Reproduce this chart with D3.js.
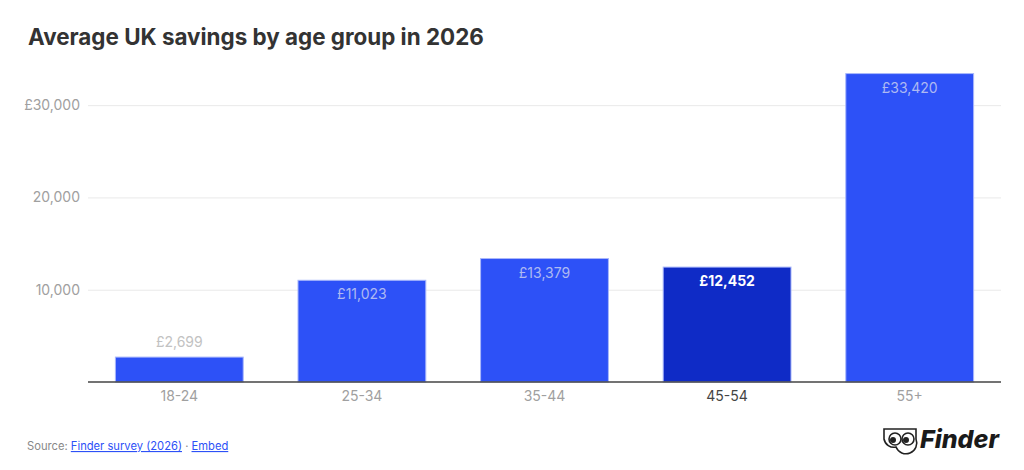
<!DOCTYPE html>
<html>
<head>
<meta charset="utf-8">
<script src="https://cdnjs.cloudflare.com/ajax/libs/d3/7.8.5/d3.min.js"></script>
<style>
  body { margin: 0; background: #fff; }
  svg { font-family: Inter, "Noto Sans", sans-serif; }
</style>
</head>
<body>
<svg id="chart" width="1024" height="470"></svg>
<script>
let ageGroups = ['18-24', '25-34', '35-44', '45-54', '55+']
let savings = [2699, 11023, 13379, 12452, 33420]
let highlighted = ['45-54']
let yTicks = [10000, 20000, 30000]

let svg = d3.select('#chart')

let margin = { left: 88, right: 23, top: 59, bottom: 88 }
let width = 1024
let height = 470

let x = d3.scaleBand()
    .domain(ageGroups)
    .range([margin.left, width - margin.right])
    .paddingInner(0.3)
    .paddingOuter(0.15)

let y = d3.scaleLinear()
    .domain([0, 35000])
    .range([height - margin.bottom, margin.top])

// title
svg.append('text')
    .attr('x', 28)
    .attr('y', 45)
    .attr('font-size', 22.4)
    .attr('font-weight', 700)
    .attr('fill', '#333')
    .text('Average UK savings by age group in 2026')

// gridlines + y labels
let yAxis = d3.axisLeft(y)
    .tickValues(yTicks)
    .tickSize(-(width - margin.left - margin.right))
    .tickPadding(8)
    .tickFormat((d, i) => (i === yTicks.length - 1 ? '£' : '') + d3.format(',')(d))

svg.append('g')
    .attr('transform', 'translate(' + margin.left + ',0)')
    .call(yAxis)
    .call(g => g.select('.domain').remove())
    .call(g => g.selectAll('line').attr('stroke', '#e9e9e9'))
    .call(g => g.selectAll('text')
        .attr('fill', '#a0a0a0')
        .attr('font-size', 14)
        .attr('font-family', 'Inter, sans-serif'))

// bars
let rows = ageGroups.map((g, i) => ({ group: g, value: savings[i] }))

svg.selectAll('rect.bar')
    .data(rows)
    .enter()
    .append('rect')
    .attr('class', 'bar')
    .attr('x', d => x(d.group))
    .attr('y', d => y(d.value))
    .attr('width', x.bandwidth())
    .attr('height', d => y(0) - y(d.value))
    .attr('fill', d => highlighted.includes(d.group) ? '#0f2bc6' : '#2d51f7')
    .attr('stroke', '#a9b7fb')
    .attr('stroke-width', 1)

// value labels
svg.selectAll('text.value')
    .data(rows)
    .enter()
    .append('text')
    .attr('class', 'value')
    .attr('x', d => x(d.group) + x.bandwidth() / 2)
    .attr('y', d => (y(0) - y(d.value) > 40) ? y(d.value) + 19 : y(d.value) - 10)
    .attr('text-anchor', 'middle')
    .attr('font-size', 14)
    .attr('font-weight', d => highlighted.includes(d.group) ? 700 : 400)
    .attr('fill', d => {
        if (highlighted.includes(d.group)) return '#ffffff'
        return (y(0) - y(d.value) > 40) ? '#aeb9f2' : '#c2c2c2'
    })
    .text(d => '£' + d3.format(',')(d.value))

// x axis
let xAxis = d3.axisBottom(x).tickSize(0).tickPadding(9)

svg.append('g')
    .attr('transform', 'translate(0,' + y(0) + ')')
    .call(xAxis)
    .call(g => g.select('.domain')
        .attr('stroke', '#444')
        .attr('stroke-width', 1.5)
        .attr('d', 'M' + margin.left + ',0H' + (width - margin.right)))
    .call(g => g.selectAll('text')
        .attr('font-size', 14)
        .attr('font-family', 'Inter, sans-serif')
        .attr('fill', d => highlighted.includes(d) ? '#444' : '#a0a0a0'))

// source line
let source = svg.append('text')
    .attr('x', 27)
    .attr('y', 450)
    .attr('font-size', 11.2)
    .attr('fill', '#888')
source.append('tspan').text('Source: ')
source.append('tspan').attr('fill', '#2d51f7').attr('text-decoration', 'underline').text('Finder survey (2026)')
source.append('tspan').text(' · ')
source.append('tspan').attr('fill', '#2d51f7').attr('text-decoration', 'underline').text('Embed')

// logo
let logo = svg.append('g').attr('transform', 'translate(883,428)')
logo.append('path')
    .attr('d', 'M1,1 H33 V11 A10,10 0 0 1 13,19 A10,10 0 0 1 1,11 Z')
    .attr('fill', 'none')
    .attr('stroke', '#222')
    .attr('stroke-width', 1.6)
logo.append('circle').attr('cx', 12).attr('cy', 11).attr('r', 6).attr('fill', '#fff').attr('stroke', '#222').attr('stroke-width', 1.6)
logo.append('circle').attr('cx', 25).attr('cy', 11).attr('r', 6).attr('fill', '#fff').attr('stroke', '#222').attr('stroke-width', 1.6)
logo.append('circle').attr('cx', 10).attr('cy', 12).attr('r', 3).attr('fill', '#222')
logo.append('circle').attr('cx', 23).attr('cy', 12).attr('r', 3).attr('fill', '#222')
logo.append('text')
    .attr('x', 37)
    .attr('y', 20)
    .attr('font-size', 25)
    .attr('font-weight', 800)
    .attr('font-style', 'italic')
    .attr('fill', '#1a1a1a')
    .text('Finder')
</script>
</body>
</html>
